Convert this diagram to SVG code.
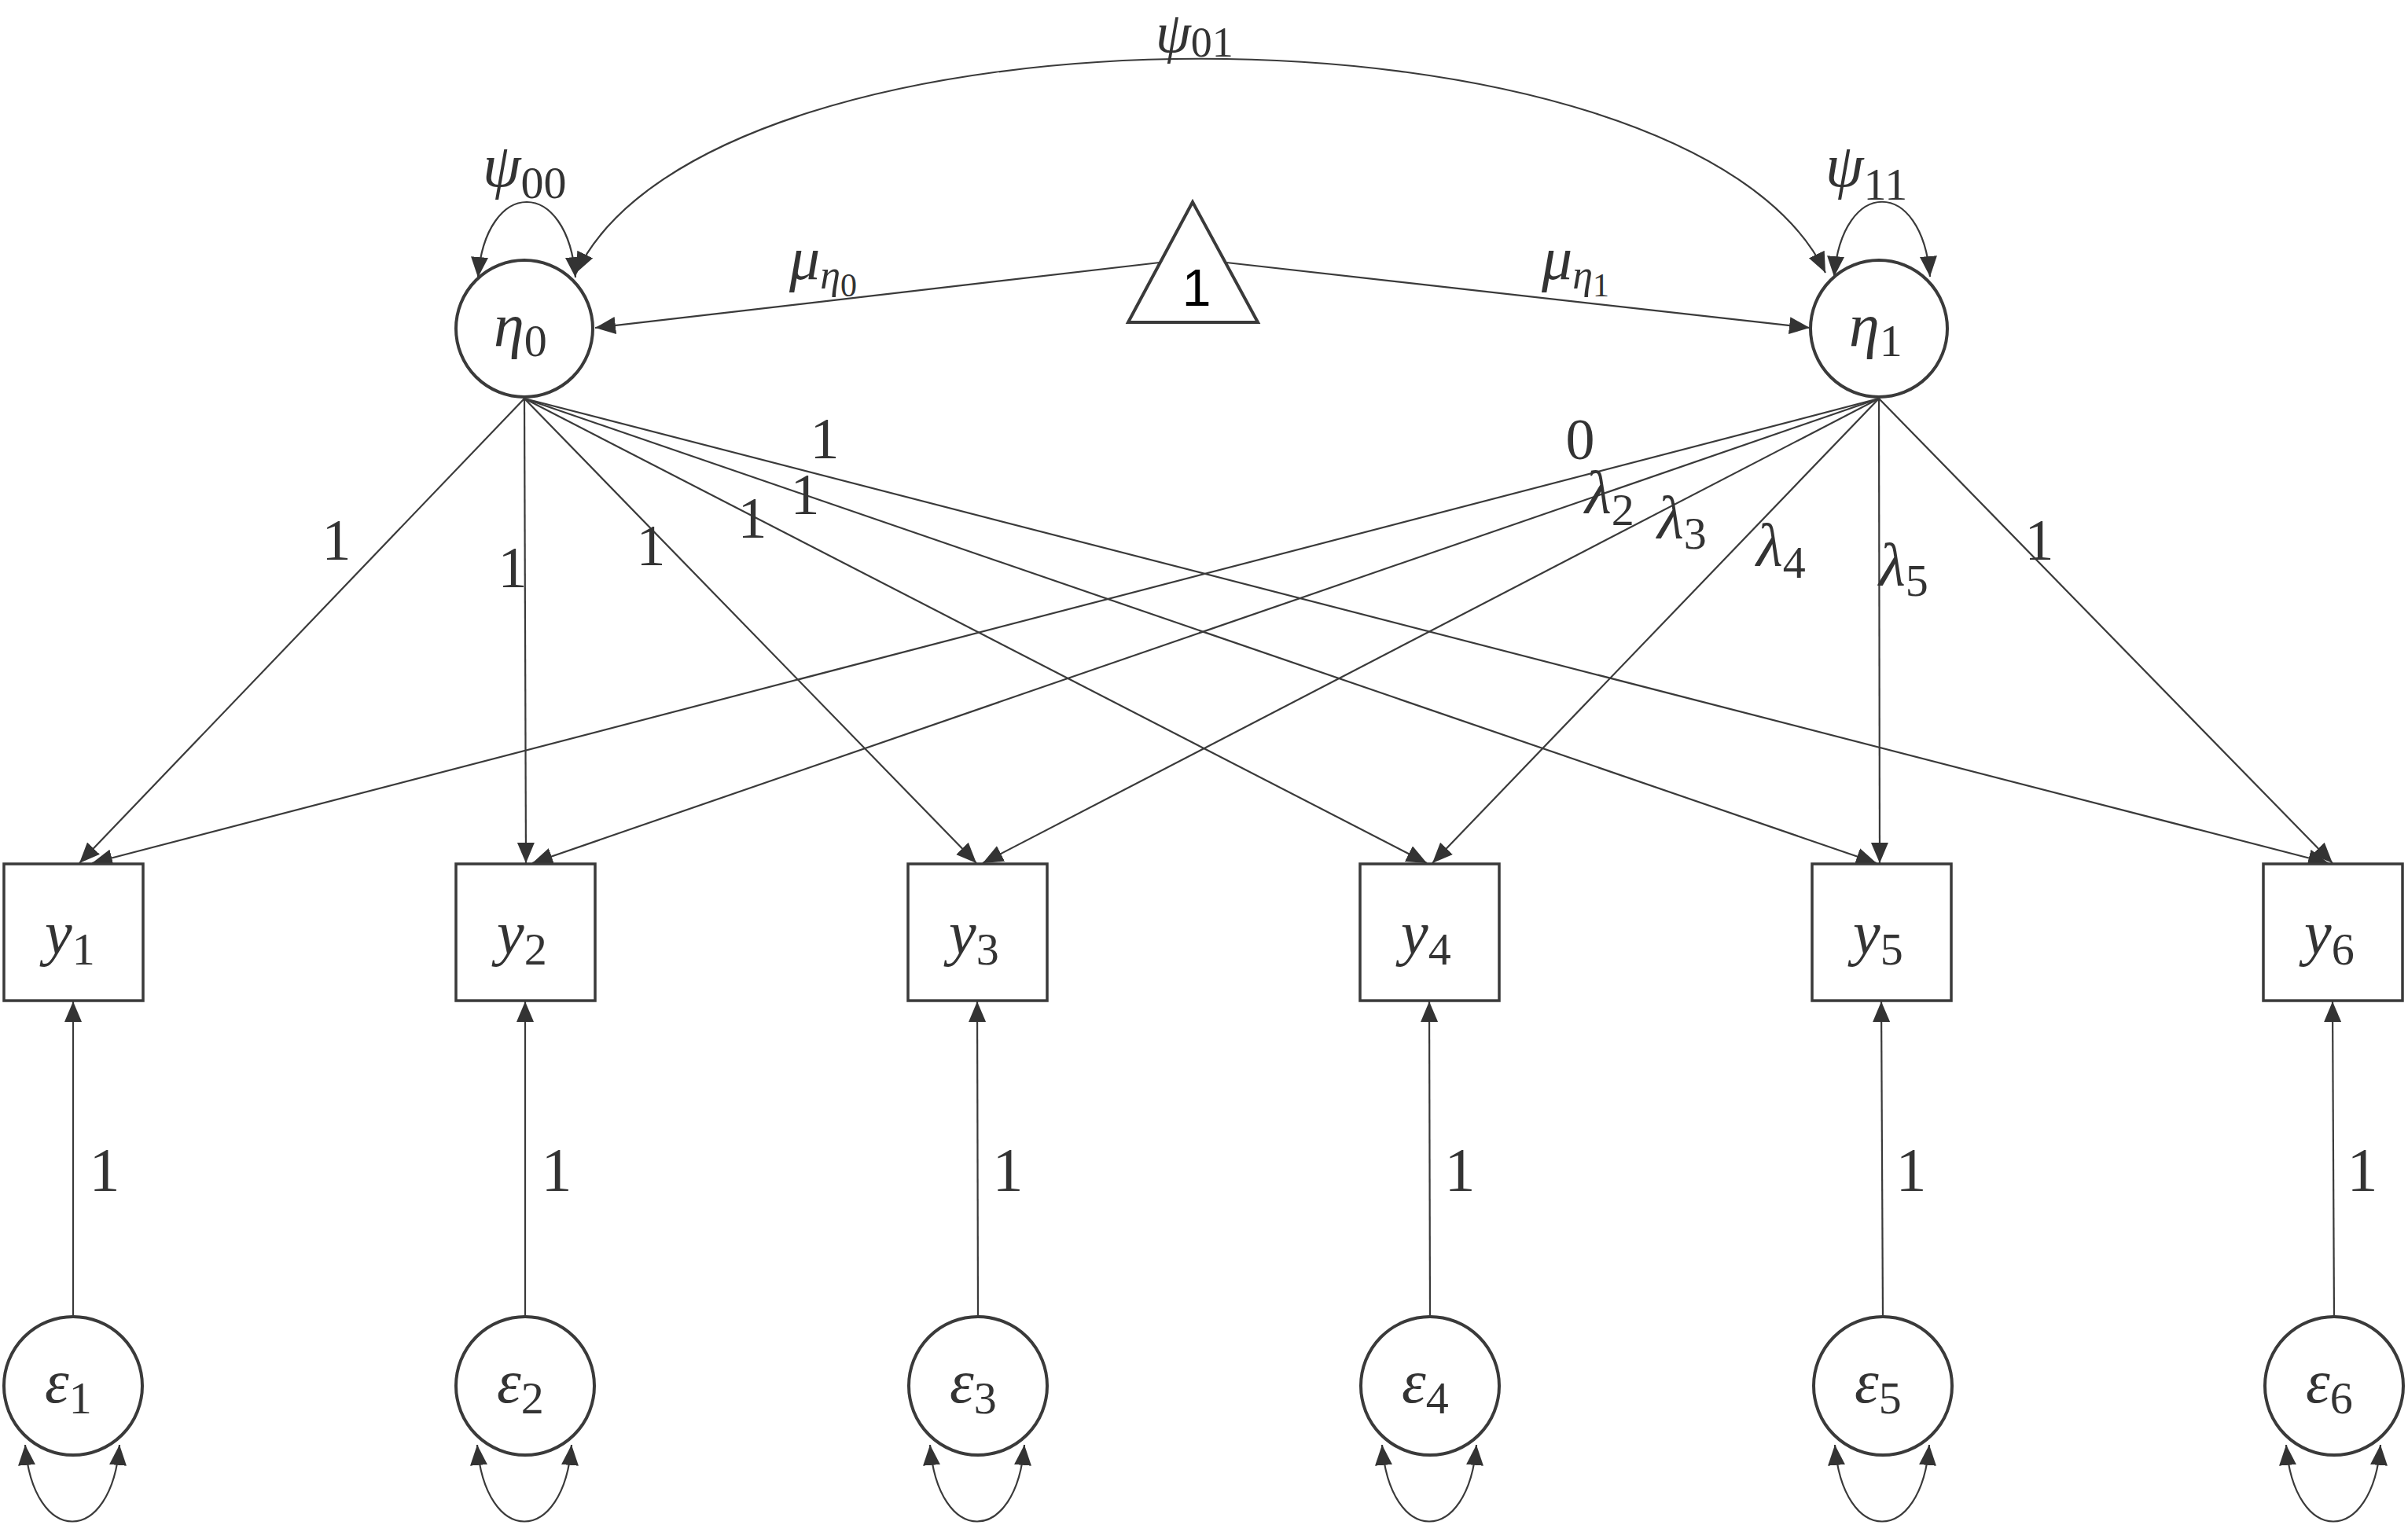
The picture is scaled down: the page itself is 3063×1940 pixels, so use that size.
<svg xmlns="http://www.w3.org/2000/svg" width="3063" height="1940" viewBox="0 0 3063 1940">
<style>
.node{fill:#fff;stroke:#3a3a3a;stroke-width:4}
.box{fill:#fff;stroke:#3a3a3a;stroke-width:3.5}
.ln{fill:none;stroke:#3a3a3a;stroke-width:2.2}
.m{font-family:"Liberation Serif","DejaVu Serif",serif;font-style:italic;font-size:78px;fill:#333}
.s{font-style:normal;font-size:58px}
.si{font-style:italic;font-size:52px}
.ss{font-style:normal;font-size:42px}
.n{font-family:"Liberation Serif","DejaVu Serif",serif;font-size:74px;fill:#333}
.nb{font-family:"Liberation Serif","DejaVu Serif",serif;font-size:78px;fill:#333}
.t{font-family:"Liberation Sans","DejaVu Sans",sans-serif;font-size:66px;fill:#000}
</style>
<defs>
<marker id="a" markerUnits="userSpaceOnUse" markerWidth="28" markerHeight="24" refX="26" refY="11" orient="auto-start-reverse" viewBox="0 0 28 24">
<path d="M0,0 L26,11 L0,22 z" fill="#333"/>
</marker>
</defs>
<rect width="3063" height="1940" fill="#fff"/>

<g id="connectors">
<path class="ln" d="M733,347 C907,-16 2148,-16 2322,347" marker-start="url(#a)" marker-end="url(#a)"/>
<path class="ln" d="M608,353 C618,225 722,225 732,353" marker-start="url(#a)" marker-end="url(#a)"/>
<path class="ln" d="M2333,352 C2343,225 2445,225 2455,352" marker-start="url(#a)" marker-end="url(#a)"/>
<path class="ln" d="M1475,334 L757,417" marker-end="url(#a)"/>
<path class="ln" d="M1560,334 L2302,417" marker-end="url(#a)"/>
<path class="ln" d="M667,507 L101,1098" marker-end="url(#a)"/>
<path class="ln" d="M667,507 L669,1098" marker-end="url(#a)"/>
<path class="ln" d="M667,507 L1242,1098" marker-end="url(#a)"/>
<path class="ln" d="M667,507 L1815,1098" marker-end="url(#a)"/>
<path class="ln" d="M667,507 L2387,1098" marker-end="url(#a)"/>
<path class="ln" d="M667,507 L2962,1098" marker-end="url(#a)"/>
<path class="ln" d="M2390,507 L117,1098" marker-end="url(#a)"/>
<path class="ln" d="M2390,507 L677,1098" marker-end="url(#a)"/>
<path class="ln" d="M2390,507 L1250,1098" marker-end="url(#a)"/>
<path class="ln" d="M2390,507 L1822,1098" marker-end="url(#a)"/>
<path class="ln" d="M2390,507 L2391,1098" marker-end="url(#a)"/>
<path class="ln" d="M2390,507 L2967,1098" marker-end="url(#a)"/>
<path class="ln" d="M93,1675 L93,1274" marker-end="url(#a)"/>
<path class="ln" d="M668,1675 L668,1274" marker-end="url(#a)"/>
<path class="ln" d="M1244,1675 L1243,1274" marker-end="url(#a)"/>
<path class="ln" d="M1819,1675 L1818,1274" marker-end="url(#a)"/>
<path class="ln" d="M2395,1675 L2393,1274" marker-end="url(#a)"/>
<path class="ln" d="M2969,1675 L2967,1274" marker-end="url(#a)"/>
<path class="ln" d="M32,1838 C42,1968 142,1968 152,1838" marker-start="url(#a)" marker-end="url(#a)"/>
<path class="ln" d="M607,1838 C617,1968 717,1968 727,1838" marker-start="url(#a)" marker-end="url(#a)"/>
<path class="ln" d="M1183,1838 C1193,1968 1293,1968 1303,1838" marker-start="url(#a)" marker-end="url(#a)"/>
<path class="ln" d="M1758,1838 C1768,1968 1868,1968 1878,1838" marker-start="url(#a)" marker-end="url(#a)"/>
<path class="ln" d="M2334,1838 C2344,1968 2444,1968 2454,1838" marker-start="url(#a)" marker-end="url(#a)"/>
<path class="ln" d="M2908,1838 C2918,1968 3018,1968 3028,1838" marker-start="url(#a)" marker-end="url(#a)"/>

<text class="m" x="1470" y="66" style="font-size:72px">ψ<tspan class="s" dy="6" style="font-size:54px">01</tspan></text>
<text class="m" x="614" y="237">ψ<tspan class="s" dy="15">00</tspan></text>
<text class="m" x="2322" y="237">ψ<tspan class="s" dy="17">11</tspan></text>
<text class="m" x="1004" y="355">μ<tspan class="si" dy="12">η</tspan><tspan class="ss" dy="10">0</tspan></text>
<text class="m" x="1961" y="355">μ<tspan class="si" dy="12">η</tspan><tspan class="ss" dy="10">1</tspan></text>
<text class="n" x="428" y="712" text-anchor="middle">1</text>
<text class="n" x="652" y="747" text-anchor="middle">1</text>
<text class="n" x="828" y="719" text-anchor="middle">1</text>
<text class="n" x="957" y="684" text-anchor="middle">1</text>
<text class="n" x="1024" y="654" text-anchor="middle">1</text>
<text class="n" x="1049" y="583" text-anchor="middle">1</text>
<text class="n" x="2010" y="584" text-anchor="middle">0</text>
<text class="m" x="2016" y="653">λ<tspan class="s" dy="15">2</tspan></text>
<text class="m" x="2108" y="685">λ<tspan class="s" dy="13">3</tspan></text>
<text class="m" x="2234" y="720">λ<tspan class="s" dy="15">4</tspan></text>
<text class="m" x="2390" y="745">λ<tspan class="s" dy="13">5</tspan></text>
<text class="n" x="2594" y="712" text-anchor="middle">1</text>
<text class="nb" x="133" y="1514" text-anchor="middle">1</text>
<text class="nb" x="708" y="1514" text-anchor="middle">1</text>
<text class="nb" x="1282" y="1514" text-anchor="middle">1</text>
<text class="nb" x="1857" y="1514" text-anchor="middle">1</text>
<text class="nb" x="2431" y="1514" text-anchor="middle">1</text>
<text class="nb" x="3005" y="1514" text-anchor="middle">1</text>
</g>

<g id="eta0"><circle class="node" cx="667" cy="418" r="87"/><text class="m" x="628" y="440">η<tspan class="s" dy="13">0</tspan></text></g>
<g id="eta1"><circle class="node" cx="2390" cy="418" r="87"/><text class="m" x="2352" y="440">η<tspan class="s" dy="13">1</tspan></text></g>
<g id="one"><polygon class="node" points="1517,257 1435,410 1600,410"/><text class="t" x="1522" y="389" text-anchor="middle">1</text></g>

<g id="y1"><rect class="box" x="5" y="1099" width="177" height="174"/><text class="m" x="57" y="1213">y<tspan class="s" dy="14">1</tspan></text></g>
<g id="y2"><rect class="box" x="580" y="1099" width="177" height="174"/><text class="m" x="632" y="1213">y<tspan class="s" dy="14">2</tspan></text></g>
<g id="y3"><rect class="box" x="1155" y="1099" width="177" height="174"/><text class="m" x="1207" y="1213">y<tspan class="s" dy="14">3</tspan></text></g>
<g id="y4"><rect class="box" x="1730" y="1099" width="177" height="174"/><text class="m" x="1782" y="1213">y<tspan class="s" dy="14">4</tspan></text></g>
<g id="y5"><rect class="box" x="2305" y="1099" width="177" height="174"/><text class="m" x="2357" y="1213">y<tspan class="s" dy="14">5</tspan></text></g>
<g id="y6"><rect class="box" x="2879" y="1099" width="177" height="174"/><text class="m" x="2931" y="1213">y<tspan class="s" dy="14">6</tspan></text></g>

<g id="e1"><circle class="node" cx="93" cy="1763" r="88"/><text class="m" x="57" y="1784">ε<tspan class="s" dy="14">1</tspan></text></g>
<g id="e2"><circle class="node" cx="668" cy="1763" r="88"/><text class="m" x="632" y="1784">ε<tspan class="s" dy="14">2</tspan></text></g>
<g id="e3"><circle class="node" cx="1244" cy="1763" r="88"/><text class="m" x="1208" y="1784">ε<tspan class="s" dy="14">3</tspan></text></g>
<g id="e4"><circle class="node" cx="1819" cy="1763" r="88"/><text class="m" x="1783" y="1784">ε<tspan class="s" dy="14">4</tspan></text></g>
<g id="e5"><circle class="node" cx="2395" cy="1763" r="88"/><text class="m" x="2359" y="1784">ε<tspan class="s" dy="14">5</tspan></text></g>
<g id="e6"><circle class="node" cx="2969" cy="1763" r="88"/><text class="m" x="2933" y="1784">ε<tspan class="s" dy="14">6</tspan></text></g>
</svg>
